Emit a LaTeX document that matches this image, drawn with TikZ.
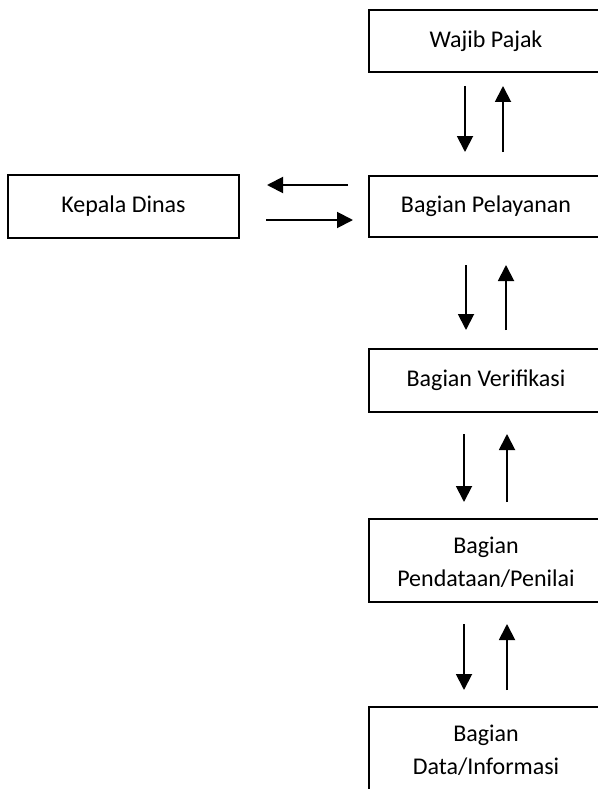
\documentclass[tikz,border=0pt]{standalone}
\usepackage{fontspec}
\setmainfont{Carlito}
\usetikzlibrary{arrows.meta}
\begin{document}
\begin{tikzpicture}[x=1pt,y=-1pt,
  label/.style={inner sep=0pt,align=center,font=\fontsize{24}{33}\selectfont},
  boxline/.style={draw,line width=1.3pt},
  flow/.style={line width=1.9pt,-{Triangle[width=16pt,length=16pt]}}]
\useasboundingbox (0,0) rectangle (597,789);
% boxes (the right-hand column runs past the picture's right edge)
\draw[boxline] (620,10) -- (369,10) -- (369,72) -- (620,72);
\draw[boxline] (620,176) -- (369,176) -- (369,237) -- (620,237);
\draw[boxline] (8,175) rectangle (239,238);
\draw[boxline] (620,349) -- (369,349) -- (369,412) -- (620,412);
\draw[boxline] (620,519) -- (369,519) -- (369,602) -- (620,602);
\draw[boxline] (620,707) -- (369,707) -- (369,800);
% texts
\node[label] (wp) at (486,41) {Wajib Pajak};
\node[label] (bp) at (486,206.5) {Bagian Pelayanan};
\node[label] (kd) at (123.5,206.5) {Kepala Dinas};
\node[label] (bv) at (486,380.5) {Bagian Verifikasi};
\node[label] (bpp) at (486,562) {Bagian\\Pendataan/Penilai};
\node[label] (bd) at (486,750) {Bagian\\Data/Informasi};
% arrow end points
\coordinate (a1t) at (465,86);  \coordinate (a1b) at (465,152);
\coordinate (b1t) at (503,86);  \coordinate (b1b) at (503,152);
\coordinate (a2t) at (466,265); \coordinate (a2b) at (466,330);
\coordinate (b2t) at (506,265); \coordinate (b2b) at (506,330);
\coordinate (a3t) at (464,434); \coordinate (a3b) at (464,502);
\coordinate (b3t) at (507,434); \coordinate (b3b) at (507,502);
\coordinate (a4t) at (464,624); \coordinate (a4b) at (464,690);
\coordinate (b4t) at (507,624); \coordinate (b4b) at (507,690);
\coordinate (hlr) at (348,185); \coordinate (hll) at (267,185);
\coordinate (hrl) at (266,220); \coordinate (hrr) at (353,220);
\draw[flow] (a1t) -- (a1b);
\draw[flow] (b1b) -- (b1t);
\draw[flow] (a2t) -- (a2b);
\draw[flow] (b2b) -- (b2t);
\draw[flow] (a3t) -- (a3b);
\draw[flow] (b3b) -- (b3t);
\draw[flow] (a4t) -- (a4b);
\draw[flow] (b4b) -- (b4t);
\draw[flow] (hlr) -- (hll);
\draw[flow] (hrl) -- (hrr);
\end{tikzpicture}
\end{document}
